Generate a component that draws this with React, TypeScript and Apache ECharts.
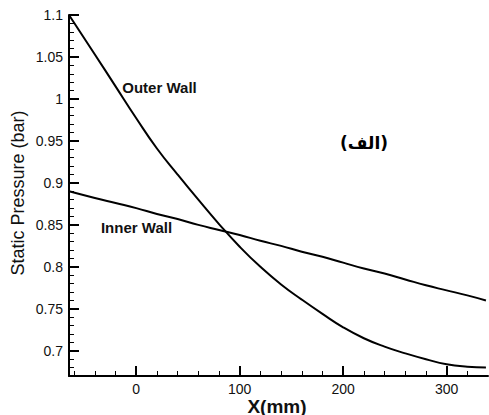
import React, { useEffect, useRef } from "react";
import * as echarts from "echarts";

const xValues = [-65, -40, -20, 0, 20, 40, 60, 80, 100, 120, 140, 160, 180, 200, 220, 240, 260, 280, 300, 320, 338];
const outerWall = [1.1, 1.053, 1.015, 0.977, 0.941, 0.91, 0.88, 0.851, 0.824, 0.8, 0.779, 0.761, 0.744, 0.728, 0.715, 0.705, 0.697, 0.69, 0.684, 0.681, 0.68];
const innerWall = [0.89, 0.882, 0.876, 0.87, 0.863, 0.857, 0.85, 0.844, 0.838, 0.831, 0.825, 0.818, 0.812, 0.805, 0.798, 0.792, 0.785, 0.778, 0.772, 0.766, 0.76];

const xMajorTicks = [0, 100, 200, 300];
const xMinorTicks = [-60, -40, -20, 20, 40, 60, 80, 120, 140, 160, 180, 220, 240, 260, 280, 320];
const yMajorTicks = [0.7, 0.75, 0.8, 0.85, 0.9, 0.95, 1, 1.05, 1.1];
const yMinorStep = 0.01;

const FONT = "'Liberation Sans', Arial, sans-serif";

export default function App() {
  const ref = useRef<HTMLDivElement>(null);
  useEffect(() => {
    if (!ref.current) return;
    const chart = echarts.init(ref.current, undefined, { renderer: "svg" });
    const bx = { type: "value", min: -65, max: 340, position: "bottom", splitLine: { show: false } };
    const by = { type: "value", min: 0.67, max: 1.1, position: "left", splitLine: { show: false } };
    chart.setOption({
      animation: false,
      backgroundColor: "#fff",
      grid: { left: 69, right: 1, top: 15, bottom: 39 },
      xAxis: [
        {
          ...bx,
          axisLine: { show: true, onZero: false, lineStyle: { color: "#000", width: 2 } },
          axisTick: { show: true, inside: false, length: -10, lineStyle: { color: "#000", width: 2 }, customValues: xMajorTicks },
          axisLabel: { show: true, customValues: xMajorTicks, fontSize: 14, color: "#111", fontFamily: FONT, margin: 6 },
        },
        {
          ...bx,
          axisLine: { show: false, onZero: false },
          axisTick: { show: true, inside: false, length: -5, lineStyle: { color: "#000", width: 1 }, customValues: xMinorTicks },
          axisLabel: { show: false },
        },
      ],
      yAxis: [
        {
          ...by,
          axisLine: { show: true, onZero: false, lineStyle: { color: "#000", width: 2 } },
          axisTick: { show: true, inside: false, length: -10, lineStyle: { color: "#000", width: 2 }, customValues: yMajorTicks },
          axisLabel: { show: true, customValues: yMajorTicks, fontSize: 14, color: "#111", fontFamily: FONT, margin: 6 },
        },
        {
          ...by,
          interval: yMinorStep,
          axisLine: { show: false, onZero: false },
          axisTick: { show: true, inside: true, length: 5, lineStyle: { color: "#000", width: 1 } },
          axisLabel: { show: false },
        },
      ],
      series: [
        {
          name: "Outer Wall",
          type: "line",
          data: xValues.map((x, i) => [x, outerWall[i]]),
          smooth: true,
          showSymbol: false,
          lineStyle: { color: "#000", width: 2 },
        },
        {
          name: "Inner Wall",
          type: "line",
          data: xValues.map((x, i) => [x, innerWall[i]]),
          smooth: true,
          showSymbol: false,
          lineStyle: { color: "#000", width: 2 },
        },
      ],
      graphic: [
        {
          type: "text",
          x: 17.5,
          y: 193,
          rotation: Math.PI / 2,
          style: { text: "Static Pressure (bar)", align: "center", verticalAlign: "middle", font: `18px ${FONT}`, fill: "#111" },
        },
        {
          type: "text",
          x: 277,
          y: 406,
          style: { text: "X(mm)", align: "center", verticalAlign: "middle", font: `bold 19px ${FONT}`, fill: "#111" },
        },
        {
          type: "text",
          x: 159.5,
          y: 87,
          style: { text: "Outer Wall", align: "center", verticalAlign: "middle", font: `bold 15px ${FONT}`, fill: "#111" },
        },
        {
          type: "text",
          x: 136.5,
          y: 227,
          style: { text: "Inner Wall", align: "center", verticalAlign: "middle", font: `bold 15px ${FONT}`, fill: "#111" },
        },
        {
          type: "text",
          x: 364,
          y: 143,
          style: { text: "(الف)", align: "center", verticalAlign: "middle", font: `bold 17px 'DejaVu Sans', sans-serif`, fill: "#000" },
        },
      ],
    });
    return () => chart.dispose();
  }, []);
  return <div ref={ref} style={{ position: "absolute", left: 0, top: 0, width: 489, height: 415 }} />;
}
